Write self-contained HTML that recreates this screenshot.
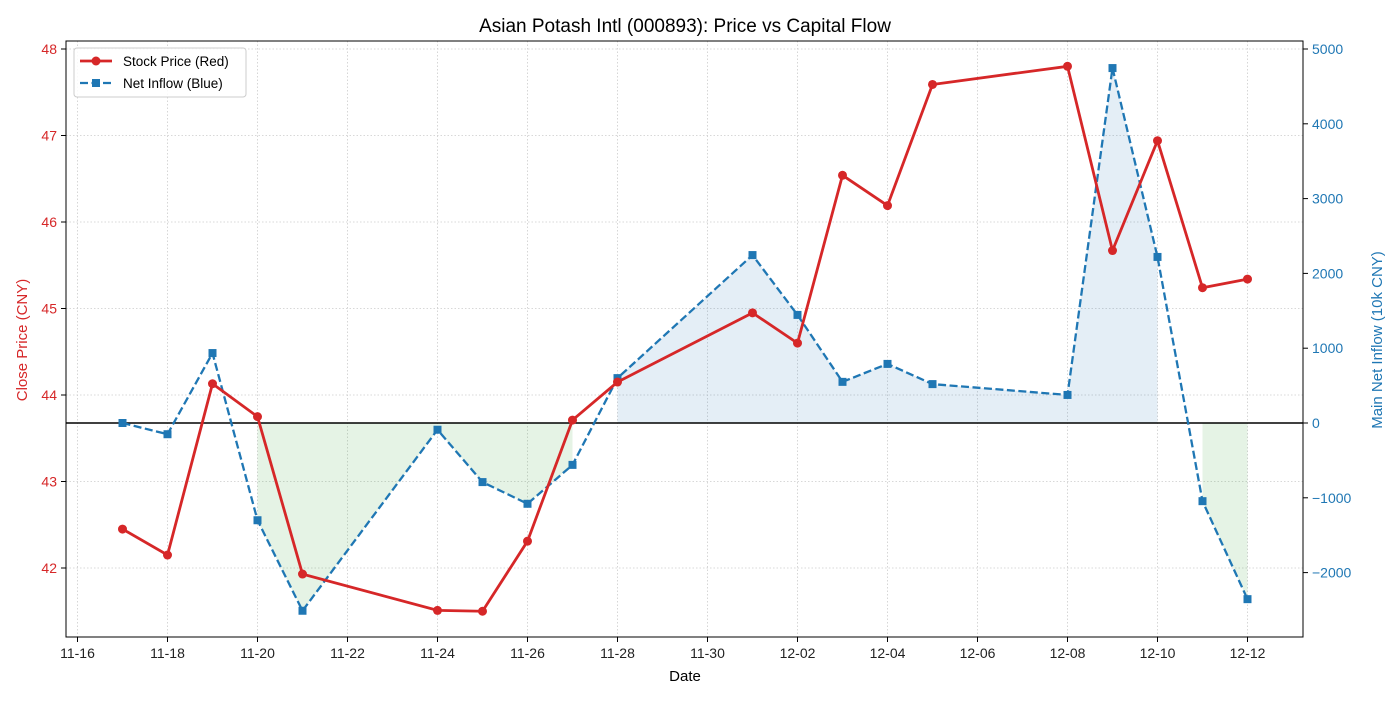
<!DOCTYPE html>
<html><head><meta charset="utf-8"><style>
body{margin:0;background:#fff;font-family:"Liberation Sans",sans-serif;}
svg text{font-family:"Liberation Sans",sans-serif;}
</style></head><body>
<svg id="c" width="1400" height="700" xmlns="http://www.w3.org/2000/svg"></svg>
<script>
const dates=["11-17","11-18","11-19","11-20","11-21","11-24","11-25","11-26","11-27","11-28","12-01","12-02","12-03","12-04","12-05","12-08","12-09","12-10","12-11","12-12"];
const dayIdx=[1,2,3,4,5,8,9,10,11,12,15,16,17,18,19,22,23,24,25,26];
const price=[42.45,42.15,44.13,43.75,41.93,41.51,41.50,42.31,43.71,44.15,44.95,44.60,46.54,46.19,47.59,47.80,45.67,46.94,45.24,45.34];
const inflow=[0,-150,935,-1300,-2510,-90,-790,-1080,-560,600,2245,1445,550,790,520,375,4745,2220,-1045,-2355];
const xTickLabels=["11-16","11-18","11-20","11-22","11-24","11-26","11-28","11-30","12-02","12-04","12-06","12-08","12-10","12-12"];
const leftTicks=[42,43,44,45,46,47,48];
const rightTicks=[-2000,-1000,0,1000,2000,3000,4000,5000];

const L=66,R=1303,T=41,B=637;
const x=d=>77.5+d*45;
const yl=v=>49+(48-v)*86.5;
const yr=v=>423-v*0.0748;
const svg=document.getElementById('c');
const NS="http://www.w3.org/2000/svg";
function el(tag,attrs,parent){const e=document.createElementNS(NS,tag);for(const k in attrs)e.setAttribute(k,attrs[k]);(parent||svg).appendChild(e);return e;}

// grid
xTickLabels.forEach((t,i)=>{const g=el('line',{x1:x(i*2),x2:x(i*2),y1:T,y2:B,stroke:'#ccc','stroke-width':0.8,'stroke-dasharray':'1.5,2'});

});
leftTicks.forEach(v=>{const g=el('line',{x1:L,x2:R,y1:yl(v),y2:yl(v),stroke:'#ccc','stroke-width':0.8,'stroke-dasharray':'1.5,2'});

});

// fills
for(let i=0;i<inflow.length-1;i++){
  const a=inflow[i],b=inflow[i+1];
  let col=null;
  if(a>0&&b>0)col='#1f77b4';else if(a<0&&b<0)col='#2ca02c';
  if(!col)continue;
  const p=el('polygon',{points:`${x(dayIdx[i])},${yr(0)} ${x(dayIdx[i])},${yr(a)} ${x(dayIdx[i+1])},${yr(b)} ${x(dayIdx[i+1])},${yr(0)}`,fill:col,'fill-opacity':0.12});
  
  
}
// zero line
const z=el('line',{x1:L,x2:R,y1:yr(0),y2:yr(0),stroke:'#000','stroke-width':1.6});



// inflow series
const ip=el('polyline',{points:inflow.map((v,i)=>x(dayIdx[i])+','+yr(v)).join(' '),fill:'none',stroke:'#1f77b4','stroke-width':2.3,'stroke-dasharray':'8,3.5'});


inflow.forEach((v,i)=>{const m=el('rect',{x:x(dayIdx[i])-4,y:yr(v)-4,width:8,height:8,fill:'#1f77b4'});

});
// price series
const pp=el('polyline',{points:price.map((v,i)=>x(dayIdx[i])+','+yl(v)).join(' '),fill:'none',stroke:'#d62728','stroke-width':2.8});


price.forEach((v,i)=>{const m=el('circle',{cx:x(dayIdx[i]),cy:yl(v),r:4.5,fill:'#d62728'});

});

// frame
const f=el('rect',{x:L,y:T,width:R-L,height:B-T,fill:'none',stroke:'#000','stroke-width':1});



// x ticks
xTickLabels.forEach((t,i)=>{const xx=x(i*2);
el('line',{x1:xx,x2:xx,y1:B,y2:B+5,stroke:'#000'});
const tx=el('text',{x:xx,y:B+21,'text-anchor':'middle','font-size':14,fill:'#222'});tx.textContent=t;

});
leftTicks.forEach(v=>{el('line',{x1:L-5,x2:L,y1:yl(v),y2:yl(v),stroke:'#000'});
const tx=el('text',{x:L-9,y:yl(v)+5,'text-anchor':'end','font-size':14,fill:'#d62728'});tx.textContent=v;

});
rightTicks.forEach(v=>{el('line',{x1:R,x2:R+5,y1:yr(v),y2:yr(v),stroke:'#000'});
const tx=el('text',{x:R+9,y:yr(v)+5,'text-anchor':'start','font-size':14,fill:'#1f77b4'});tx.textContent=v<0?'\u2212'+Math.abs(v):v;

});
</script>
<svg width="1400" height="700" style="position:absolute;left:0;top:0" xmlns="http://www.w3.org/2000/svg">
<text x="685" y="32" text-anchor="middle" font-size="19" fill="#000">Asian Potash Intl (000893): Price vs Capital Flow</text>
<text x="685" y="681" text-anchor="middle" font-size="15" fill="#000">Date</text>
<text transform="translate(27,340) rotate(-90)" text-anchor="middle" font-size="15" fill="#d62728">Close Price (CNY)</text>
<text transform="translate(1382,340) rotate(-90)" text-anchor="middle" font-size="15" fill="#1f77b4">Main Net Inflow (10k CNY)</text>
<g>
<rect x="74" y="48" width="172" height="49" rx="3" fill="#fff" fill-opacity="0.85" stroke="#ccc"/>
<line x1="80" x2="112" y1="61" y2="61" stroke="#d62728" stroke-width="2.8"/>
<circle cx="96" cy="61" r="4.5" fill="#d62728"/>
<text x="123" y="66" font-size="13.5" fill="#000">Stock Price (Red)</text>
<line x1="80" x2="112" y1="83" y2="83" stroke="#1f77b4" stroke-width="2.3" stroke-dasharray="8,3.5"/>
<rect x="92" y="79" width="8" height="8" fill="#1f77b4"/>
<text x="123" y="88" font-size="13.5" fill="#000">Net Inflow (Blue)</text>
</g>
</svg>
</body></html>
